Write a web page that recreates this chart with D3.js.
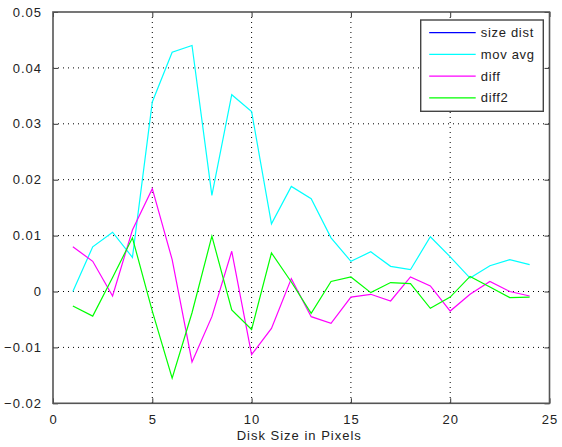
<!DOCTYPE html>
<html>
<head>
<meta charset="utf-8">
<script src="https://cdn.jsdelivr.net/npm/d3@7"></script>
<style>
  body { margin: 0; background: #fff; }
  text { font-family: "Liberation Sans", Arial, sans-serif; font-size: 13px; letter-spacing: 1px; fill: #222; }
</style>
</head>
<body>
<svg id="drawing_region"></svg>
<script>
// disk sizes 1..24
const diskSize = d3.range(1, 25);
const movAvg = [0, 0.008, 0.0106, 0.0061, 0.0339, 0.0428, 0.044, 0.0172, 0.0352, 0.0322, 0.0121, 0.0188,
                0.0166, 0.0096, 0.0054, 0.0071, 0.0045, 0.0039, 0.0098, 0.0062, 0.0024, 0.0046, 0.0057, 0.0048];
const diff = [0.008, 0.0054, -0.0008, 0.011, 0.0184, 0.0057, -0.0126, -0.0045, 0.0072, -0.0113, -0.0066, 0.0023,
              -0.0045, -0.0057, -0.001, -0.0005, -0.0017, 0.0026, 0.001, -0.0035, -0.0005, 0.0018, 0, -0.0008];
const diff2 = [-0.0026, -0.0044, 0.0025, 0.0096, -0.0035, -0.0155, -0.0038, 0.0099, -0.0033, -0.0068, 0.0069, 0.0017,
               -0.0039, 0.0018, 0.0026, -0.0002, 0.0016, 0.0014, -0.003, -0.001, 0.0027, 0.0008, -0.0011, -0.001];
const legendNames = ['size dist', 'mov avg', 'diff', 'diff2'];
const legendColors = ['#0000ff', '#00ffff', '#ff00ff', '#00ff00'];
const xTicks = [0, 5, 10, 15, 20, 25];
const yTicks = [-0.02, -0.01, 0, 0.01, 0.02, 0.03, 0.04, 0.05];

const width = 562, height = 447;
const margin = {top: 12, right: 12.5, bottom: 43.7, left: 53};

const svg = d3.select('#drawing_region')
    .attr('width', width)
    .attr('height', height);

const x = d3.scaleLinear().domain([0, 25]).range([margin.left, width - margin.right]);
const y = d3.scaleLinear().domain([-0.02, 0.05]).range([height - margin.bottom, margin.top]);

// grid
svg.append('g').selectAll('line')
    .data(xTicks.slice(1, -1))
    .join('line')
    .attr('x1', d => x(d)).attr('x2', d => x(d))
    .attr('y1', y.range()[1]).attr('y2', y.range()[0])
    .attr('stroke', '#000').attr('stroke-width', 1)
    .attr('stroke-dasharray', '1,4');
svg.append('g').selectAll('line')
    .data(yTicks.slice(1, -1))
    .join('line')
    .attr('x1', x.range()[0]).attr('x2', x.range()[1])
    .attr('y1', d => y(d)).attr('y2', d => y(d))
    .attr('stroke', '#000').attr('stroke-width', 1)
    .attr('stroke-dasharray', '1,4');

// lines
const line = d3.line()
    .x((d, i) => x(diskSize[i]))
    .y(d => y(d));

[[movAvg, legendColors[1]], [diff, legendColors[2]], [diff2, legendColors[3]]].forEach(s => {
    svg.append('path')
        .attr('d', line(s[0]))
        .attr('fill', 'none')
        .attr('stroke', s[1])
        .attr('stroke-width', 1.2);
});

// axes
const tickFmt = d => d === 0 ? '0' : d3.format('.2f')(d);
const ax = (axis, tr) => svg.append('g')
    .attr('transform', tr)
    .call(axis)
    .call(g => g.select('.domain').remove())
    .call(g => g.selectAll('line').attr('stroke', '#333'));

ax(d3.axisBottom(x).tickValues(xTicks).tickSizeInner(-5).tickPadding(11).tickFormat(d3.format('d')),
   `translate(0,${y.range()[0]})`)
   .selectAll('text').style('font-size', '13px').style('letter-spacing', '1px').attr('fill', '#222');
ax(d3.axisTop(x).tickValues(xTicks).tickSizeInner(-5).tickFormat(''), `translate(0,${y.range()[1]})`);
ax(d3.axisLeft(y).tickValues(yTicks).tickSizeInner(-5).tickPadding(11).tickFormat(tickFmt),
   `translate(${x.range()[0]},0)`)
   .selectAll('text').style('font-size', '13px').style('letter-spacing', '1px').attr('fill', '#222');
ax(d3.axisRight(y).tickValues(yTicks).tickSizeInner(-5).tickFormat(''), `translate(${x.range()[1]},0)`);

svg.append('rect')
    .attr('x', x.range()[0]).attr('y', y.range()[1])
    .attr('width', x.range()[1] - x.range()[0])
    .attr('height', y.range()[0] - y.range()[1])
    .attr('fill', 'none')
    .attr('stroke', '#555')
    .attr('stroke-width', 1.6);

svg.append('text')
    .attr('x', (x.range()[0] + x.range()[1]) / 2 - 2)
    .attr('y', 440)
    .attr('text-anchor', 'middle')
    .text('Disk Size in Pixels');

// legend
const lg = svg.append('g').attr('transform', 'translate(420.7,20)');
lg.append('rect')
    .attr('width', 122.6).attr('height', 91.3)
    .attr('fill', '#fff')
    .attr('stroke', '#444')
    .attr('stroke-width', 1.4);
const row = lg.selectAll('g.row')
    .data(legendNames)
    .join('g')
    .attr('class', 'row')
    .attr('transform', (d, i) => `translate(0,${12.7 + i * 21.7})`);
row.append('line')
    .attr('x1', 8.5).attr('x2', 55)
    .attr('stroke', (d, i) => legendColors[i])
    .attr('stroke-width', 1.2);
row.append('text')
    .attr('x', 60)
    .attr('dy', '0.35em')
    .style('letter-spacing', '0.7px')
    .text(d => d);
</script>
</body>
</html>
